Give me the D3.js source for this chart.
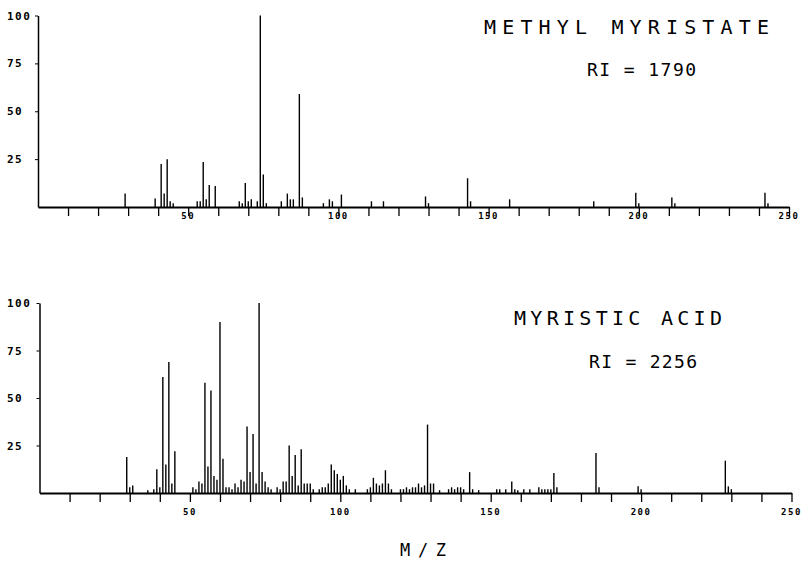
<!DOCTYPE html>
<html>
<head>
<meta charset="utf-8">
<script src="https://cdn.jsdelivr.net/npm/d3@7"></script>
<style>
  body { margin: 0; background: #fff; }
  svg { display: block; }
  .lbl { font-family: "DejaVu Sans Mono", monospace; font-weight: bold; fill: #000; }
  .ttl { font-family: "DejaVu Sans Mono", monospace; fill: #000; }
</style>
</head>
<body>
<svg id="chart" width="803" height="562"></svg>
<script>
let width = 803, height = 562;
let svg = d3.select("#chart");

// methyl myristate peaks (m/z, relative intensity)
let esterMz  = [29, 39, 41, 42, 43, 44, 45, 53, 54, 55, 56, 57, 59, 67, 68, 69, 70, 71, 73, 74, 75, 76, 81, 83, 84, 85, 87, 88, 95, 97, 98, 101, 111, 115, 129, 130, 143, 144, 157, 185, 199, 200, 211, 212, 242, 243];
let esterInt = [7, 4.5, 22.5, 7, 25, 3, 2, 3, 3, 23.5, 4, 11.5, 11, 3, 2, 12.5, 3, 4, 3, 100, 17, 2, 3, 7, 4, 4, 59, 5, 2, 4, 3, 6.5, 3, 3, 5.5, 2, 15, 3, 4, 3, 7.5, 2, 5, 2, 7.5, 2];

// myristic acid peaks
let acidMz  = [29, 30, 31, 36, 38, 39, 40, 41, 42, 43, 44, 45, 51, 52, 53, 54, 55, 56, 57, 58, 59, 60, 61, 62, 63, 64, 65, 66, 67, 68, 69, 70, 71, 72, 73, 74, 75, 76, 77, 79, 80, 81, 82, 83, 84, 85, 86, 87, 88, 89, 90, 91, 93, 94, 95, 96, 97, 98, 99, 100, 101, 102, 103, 105, 109, 110, 111, 112, 113, 114, 115, 116, 117, 120, 121, 122, 123, 124, 125, 126, 127, 128, 129, 130, 131, 133, 136, 137, 138, 139, 140, 141, 143, 144, 146, 152, 153, 155, 157, 158, 159, 161, 163, 166, 167, 168, 169, 170, 171, 172, 185, 186, 199, 200, 228, 229, 230];
let acidInt = [19, 3, 4, 1.5, 2, 12.5, 3, 61, 15, 69, 5, 22, 3, 2, 6, 5, 58, 14, 54, 9, 7, 90, 18, 3, 3, 2, 5, 3, 7, 6, 35, 11, 31, 5, 100, 11, 6, 3, 2, 3, 2, 6, 6, 25, 9, 20, 4, 23, 5, 5, 5, 2, 2, 3, 3, 5, 15, 12, 10, 7, 9, 4, 2, 2, 2, 3, 8, 5, 4, 5, 12, 5, 2, 2, 2, 3, 2, 3, 3, 5, 3, 4, 36, 5, 5, 1.5, 2, 3, 2, 3, 3, 2, 11, 2, 1.5, 2, 2, 2, 6, 2, 1.5, 2, 2, 3, 2, 2, 2, 2, 10.5, 3, 21, 3, 3.5, 2, 17, 3.5, 2];

let yTicks = [25, 50, 75, 100];
let xLabels = [50, 100, 150, 200, 250];

let panels = [
  {id: "ester", mz: esterMz, inten: esterInt, x0: 38, x1: 789, y0: 207, y1: 15.5, labelY: 219,
   name: "METHYL MYRISTATE", nameX: 484, nameY: 34, nameW: 285, ri: "RI = 1790", riX: 587, riY: 76, riW: 109},
  {id: "acid", mz: acidMz, inten: acidInt, x0: 39.5, x1: 791.5, y0: 493, y1: 303, labelY: 515,
   name: "MYRISTIC ACID", nameX: 514, nameY: 325, nameW: 208, ri: "RI = 2256", riX: 589, riY: 368, riW: 108}
];

function drawPanel(p){
  let x = d3.scaleLinear().domain([0, 250]).range([p.x0, p.x1]);
  let y = d3.scaleLinear().domain([0, 100]).range([p.y0, p.y1]);
  let g = svg.append("g").attr("id", "panel-" + p.id);

  // x axis with a tick every 10
  g.append("g")
    .attr("transform", "translate(0," + p.y0 + ")")
    .call(d3.axisBottom(x).tickValues(d3.range(10, 251, 10)).tickSize(9).tickSizeOuter(0).tickFormat(""))
    .call(a => a.select(".domain").attr("stroke-width", 1.8))
    .call(a => a.selectAll(".tick line").attr("stroke-width", 1.3));

  // y axis
  g.append("g")
    .attr("transform", "translate(" + p.x0 + ",0)")
    .call(d3.axisLeft(y).tickValues(yTicks).tickSize(3).tickSizeOuter(0).tickFormat(""))
    .call(a => a.select(".domain").attr("stroke-width", 1.5));

  g.selectAll(".ylab")
    .data(yTicks)
    .enter()
    .append("text")
    .attr("class", "lbl")
    .attr("x", 7)
    .attr("y", d => y(d) + 4)
    .style("font-size", "11px")
    .style("letter-spacing", "1.5px")
    .text(d => d);

  g.selectAll(".xlab")
    .data(xLabels)
    .enter()
    .append("text")
    .attr("class", "lbl")
    .attr("x", d => x(d))
    .attr("y", p.labelY)
    .attr("text-anchor", "middle")
    .style("font-size", "9px")
    .style("letter-spacing", "1.5px")
    .text(d => d);

  // spectrum sticks
  g.selectAll(".peak")
    .data(p.mz.map((m, i) => ({mz: m, v: p.inten[i]})))
    .enter()
    .append("line")
    .attr("x1", d => x(d.mz))
    .attr("x2", d => x(d.mz))
    .attr("y1", y(0))
    .attr("y2", d => y(d.v))
    .style("stroke", "#000")
    .style("stroke-width", 1.4);

  g.append("text")
    .attr("class", "ttl")
    .attr("x", p.nameX)
    .attr("y", p.nameY)
    .attr("textLength", p.nameW)
    .attr("lengthAdjust", "spacing")
    .style("font-size", "20px")
    .text(p.name);

  g.append("text")
    .attr("class", "ttl")
    .attr("x", p.riX)
    .attr("y", p.riY)
    .attr("textLength", p.riW)
    .attr("lengthAdjust", "spacing")
    .style("font-size", "18px")
    .text(p.ri);
}

panels.forEach(drawPanel);

svg.append("text")
  .attr("class", "ttl")
  .attr("x", 400)
  .attr("y", 556)
  .attr("textLength", 46)
  .attr("lengthAdjust", "spacing")
  .style("font-size", "17px")
  .text("M/Z");
</script>
</body>
</html>
